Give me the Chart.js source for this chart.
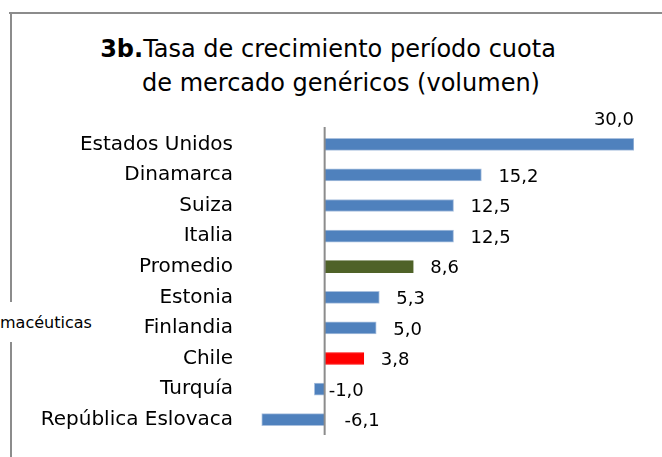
<!DOCTYPE html>
<html>
  <head>
    <meta charset="UTF-8">
    <title>Tasa de crecimiento</title>
    <script src="https://cdn.jsdelivr.net/npm/chart.js"></script>
    <style>
      body { margin: 0; background: #fff; }
      #wrap { position: relative; width: 662px; height: 457px; overflow: hidden; font-family: "DejaVu Sans", sans-serif; }
      .line { position: absolute; background: #8c8c8c; }
      .title {
        position: absolute; left: 0; width: 662px;
        text-align: center; font-size: 24px; line-height: 34px; color: #000;
      }
      #side { position: absolute; left: 0; top: 313px; font-size: 16px; color: #000; }
      canvas { position: absolute; left: 0; top: 0; }
    </style>
  </head>
  <body>
    <div id="wrap">
      <div class="line" style="left:9px; top:12px; width:653px; height:2px;"></div>
      <div class="line" style="left:10px; top:12px; width:2px; height:290px;"></div>
      <div class="line" style="left:10px; top:342px; width:2px; height:115px;"></div>
      <div id="side">macéuticas</div>
      <div class="title" style="top:32px; left:-3px;"><b>3b.</b>Tasa de crecimiento período cuota</div>
      <div class="title" style="top:66px; left:10px;">de mercado genéricos (volumen)</div>
      <canvas id="growthChart" width="662" height="457"></canvas>
    </div>

    <script>
      // datos del gráfico
      const paises = ['Estados Unidos', 'Dinamarca', 'Suiza', 'Italia', 'Promedio',
                      'Estonia', 'Finlandia', 'Chile', 'Turquía', 'República Eslovaca'];
      const crecimiento = [30.0, 15.2, 12.5, 12.5, 8.6, 5.3, 5.0, 3.8, -1.0, -6.1];

      const azul = '#4f81bd';
      const colores = paises.map(p => p === 'Promedio' ? '#4f6228' : (p === 'Chile' ? '#ff0000' : azul));

      const fmt = v => v.toFixed(1).replace('.', ',');
      const fuente = '"DejaVu Sans", sans-serif';

      // linea del eje en cero + etiquetas de valores
      const extras = {
        id: 'extras',
        afterDatasetsDraw(chart) {
          const ctx = chart.ctx;
          const x = chart.scales.x;
          const area = chart.chartArea;
          const x0 = x.getPixelForValue(0);
          ctx.save();
          ctx.strokeStyle = '#8c8c8c';
          ctx.lineWidth = 2;
          ctx.beginPath();
          ctx.moveTo(x0, area.top - 2);
          ctx.lineTo(x0, area.bottom);
          ctx.stroke();

          ctx.font = '18px ' + fuente;
          ctx.fillStyle = '#000';
          ctx.textBaseline = 'middle';
          chart.getDatasetMeta(0).data.forEach((bar, i) => {
            const v = crecimiento[i];
            const txt = fmt(v);
            if (v >= 25) {
              ctx.textAlign = 'right';
              ctx.fillText(txt, bar.x, bar.y - 24);
            } else if (v >= 0) {
              ctx.textAlign = 'left';
              ctx.fillText(txt, bar.x + 17, bar.y + 2);
            } else {
              ctx.textAlign = 'left';
              ctx.fillText(txt, x0 + 4 + (-v - 1) * 3.1, bar.y + 2);
            }
          });
          ctx.restore();
        }
      };

      new Chart(document.getElementById('growthChart'), {
        type: 'bar',
        data: {
          labels: paises,
          datasets: [{
            data: crecimiento,
            backgroundColor: colores,
            borderColor: colores.map(c => c === azul ? '#a9c0de' : c),
            borderWidth: 1,
            barThickness: 12
          }]
        },
        options: {
          indexAxis: 'y',
          responsive: false,
          animation: false,
          layout: { padding: { top: 129, bottom: 22, right: 28, left: 0 } },
          plugins: {
            legend: { display: false },
            title: { display: false },
            tooltip: { enabled: false }
          },
          scales: {
            x: { display: false, min: -8.5, max: 30 },
            y: {
              grid: { display: false, drawTicks: false },
              border: { display: false },
              ticks: { color: '#000', font: { family: fuente, size: 20 }, padding: 4 },
              afterFit(scale) { scale.width = 237; }
            }
          }
        },
        plugins: [extras]
      });
    </script>
  </body>
</html>
